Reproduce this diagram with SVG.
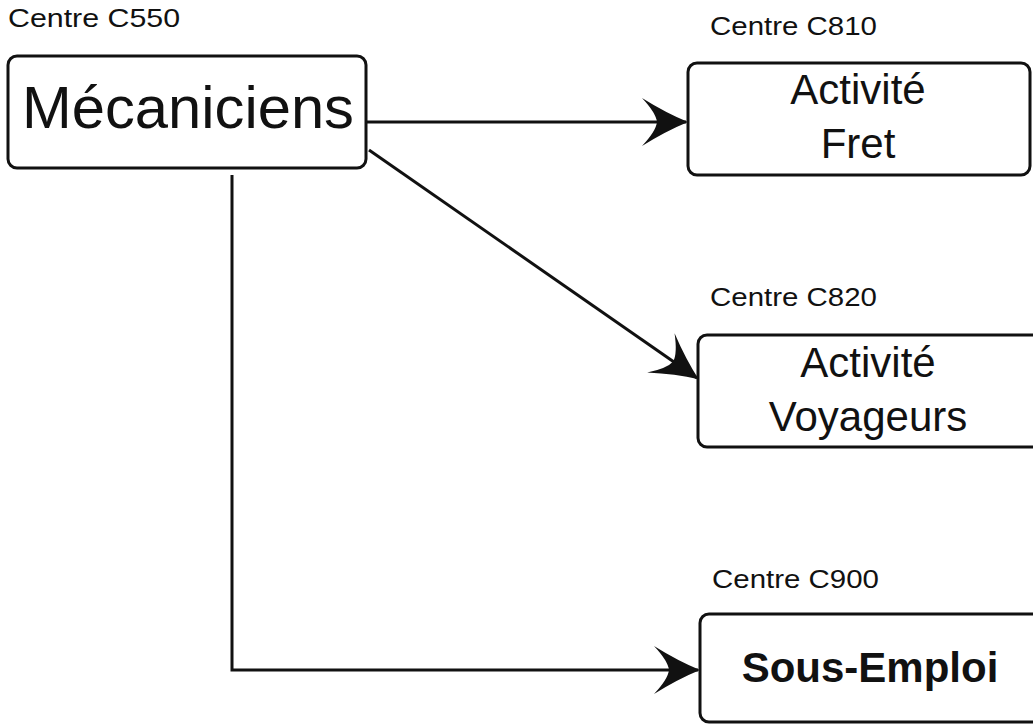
<svg xmlns="http://www.w3.org/2000/svg" width="1033" height="725" viewBox="0 0 1033 725">
<style>
.box{fill:#fff;stroke:#111;stroke-width:3}
.lbl{font-family:"Liberation Sans",Arial,sans-serif;font-size:25px;fill:#111}
.t{font-family:"Liberation Sans",Arial,sans-serif;font-size:42px;fill:#111;text-anchor:middle}
.conn{fill:none;stroke:#111;stroke-width:3}
</style>
<defs>
<marker id="ah" viewBox="0 0 48 50" refX="46" refY="25" markerWidth="48" markerHeight="50" markerUnits="userSpaceOnUse" orient="auto">
<path d="M2,1 Q26,16 48,25 Q26,34 2,49 Q16,34 17,25 Q16,16 2,1 Z" fill="#111"/>
</marker>
</defs>
<rect width="1033" height="725" fill="#fff"/>
<g id="connectors">
<path class="conn" d="M367,122 L686,122" marker-end="url(#ah)"/>
<path class="conn" d="M369,150 L697,378" marker-end="url(#ah)"/>
<path class="conn" d="M232,175 L232,670 L698,670" marker-end="url(#ah)"/>
</g>
<g id="n-mecaniciens">
<text class="lbl" x="8" y="27" textLength="172" lengthAdjust="spacingAndGlyphs">Centre C550</text>
<rect class="box" x="8" y="56" width="358" height="112" rx="9"/>
<text x="188" y="128" font-family="Liberation Sans,Arial,sans-serif" font-size="60" text-anchor="middle" fill="#111" textLength="332" lengthAdjust="spacingAndGlyphs">Mécaniciens</text>
</g>
<g id="n-fret">
<text class="lbl" x="710" y="35" textLength="167" lengthAdjust="spacingAndGlyphs">Centre C810</text>
<rect class="box" x="688" y="63" width="342" height="112" rx="9"/>
<text class="t" x="858" y="104">Activité</text>
<text class="t" x="858" y="158">Fret</text>
</g>
<g id="n-voyageurs">
<text class="lbl" x="710" y="306" textLength="167" lengthAdjust="spacingAndGlyphs">Centre C820</text>
<rect class="box" x="698" y="335" width="345" height="112" rx="9"/>
<text class="t" x="868" y="377">Activité</text>
<text class="t" x="868" y="431">Voyageurs</text>
</g>
<g id="n-sousemploi">
<text class="lbl" x="712" y="588" textLength="167" lengthAdjust="spacingAndGlyphs">Centre C900</text>
<rect class="box" x="700" y="614" width="345" height="108" rx="9"/>
<text class="t" x="870" y="682" font-weight="bold" font-size="40">Sous-Emploi</text>
</g>
</svg>
